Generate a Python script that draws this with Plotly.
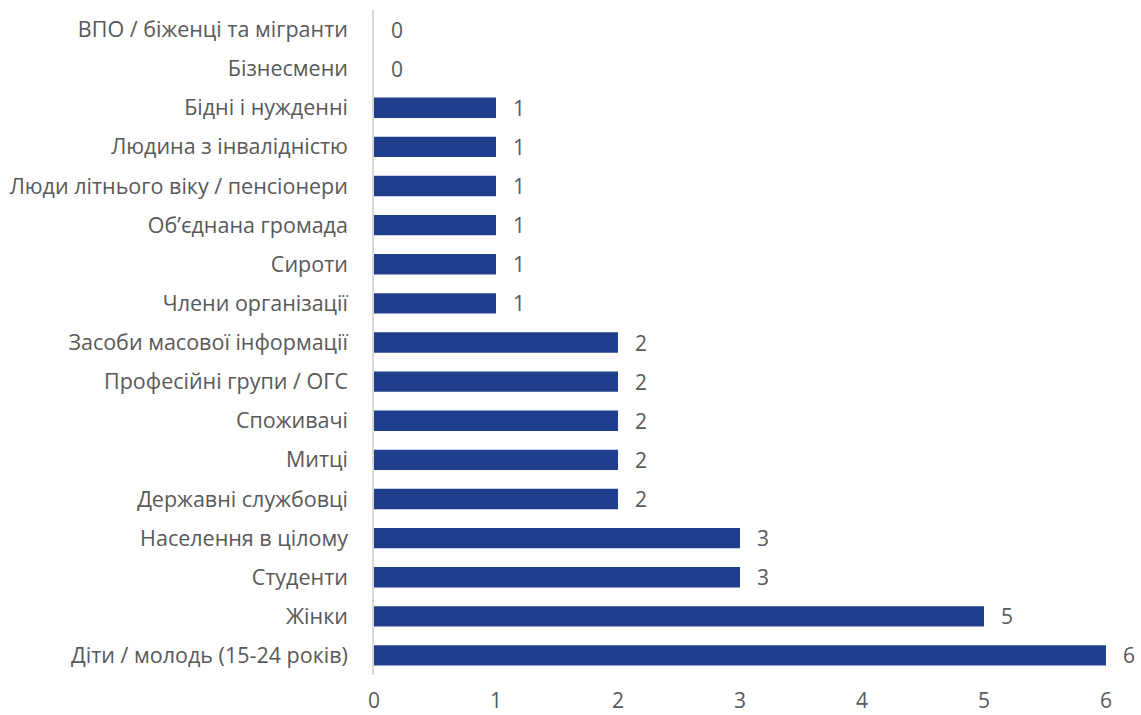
import plotly.graph_objects as go

categories = [
    "Діти / молодь (15-24 років)",
    "Жінки",
    "Студенти",
    "Населення в цілому",
    "Державні службовці",
    "Митці",
    "Споживачі",
    "Професійні групи / ОГС",
    "Засоби масової інформації",
    "Члени організації",
    "Сироти",
    "Об’єднана громада",
    "Люди літнього віку / пенсіонери",
    "Людина з інвалідністю",
    "Бідні і нужденні",
    "Бізнесмени",
    "ВПО / біженці та мігранти",
]
values = [6, 5, 3, 3, 2, 2, 2, 2, 2, 1, 1, 1, 1, 1, 1, 0, 0]
x_ticks = [0, 1, 2, 3, 4, 5, 6]

fig = go.Figure(go.Bar(
    x=values,
    y=categories,
    orientation="h",
    width=0.52,
    marker=dict(color="#1f3e8e", line=dict(width=0)),
    cliponaxis=False,
))

for c, v in zip(categories, values):
    fig.add_annotation(
        x=v, y=c, text=str(v), showarrow=False,
        xanchor="left", xshift=15,
        font=dict(size=21, color="#595959"),
    )

fig.update_layout(
    width=1141,
    height=715,
    margin=dict(l=374, r=35, t=10, b=40),
    plot_bgcolor="white",
    paper_bgcolor="white",
    font=dict(family="Open Sans, Noto Sans, sans-serif", size=21, color="#595959"),
    showlegend=False,
)
fig.update_xaxes(
    range=[0, 6],
    tickvals=x_ticks,
    ticktext=[str(t) for t in x_ticks],
    showgrid=False,
    zeroline=False,
    showline=False,
    tickfont=dict(size=21, color="#595959"),
    ticks="",
    ticklabelstandoff=11,
    automargin=False,
)
fig.update_yaxes(
    categoryorder="array",
    categoryarray=categories,
    range=[-0.5, 16.5],
    showgrid=False,
    showline=True,
    linecolor="#d9d9d9",
    linewidth=1.5,
    ticks="",
    ticklabelstandoff=20,
    tickfont=dict(size=21.5, color="#595959"),
    automargin=False,
)

fig.write_html(
    "out.html",
    config={"displayModeBar": False},
    post_script="document.body.style.margin='0';document.body.style.overflow='hidden';",
)
